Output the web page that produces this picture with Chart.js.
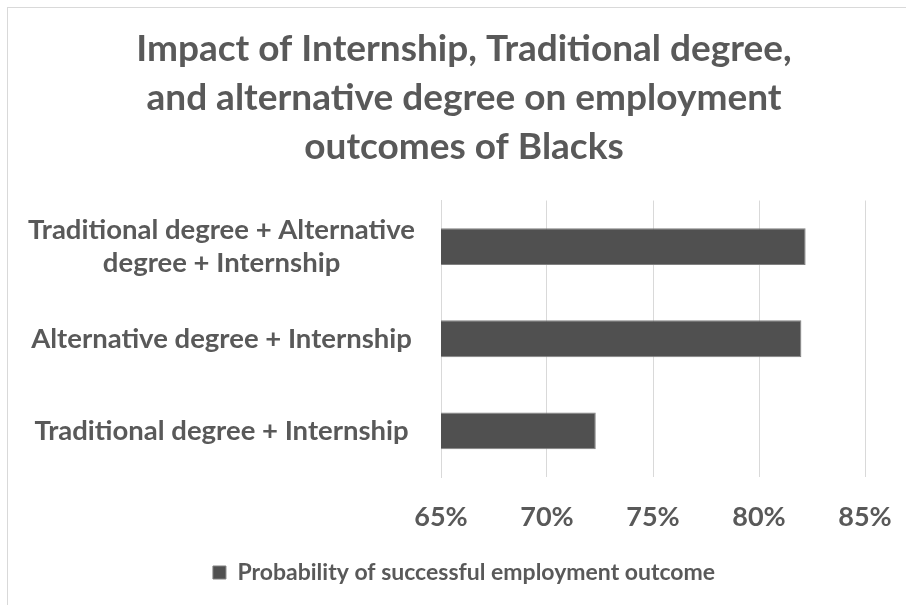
<!DOCTYPE html>
<html>
<head>
<meta charset="utf-8">
<script src="https://cdn.jsdelivr.net/npm/chart.js@4/dist/chart.umd.min.js"></script>
<style>
  html, body { margin: 0; padding: 0; background: #ffffff; }
  #wrap { position: relative; width: 906px; height: 605px; overflow: hidden; }
  #frame { position: absolute; left: 7px; top: 7px; width: 920px; height: 620px; border: 1px solid #d9d9d9; box-sizing: border-box; }
  #c { position: absolute; left: 0; top: 0; }
</style>
</head>
<body>
<div id="wrap">
  <div id="frame"></div>
  <canvas id="c" width="930" height="605"></canvas>
</div>
<script>
// Chart data
const categories = [
  ["Traditional degree + Alternative", "degree + Internship"],
  "Alternative degree + Internship",
  "Traditional degree + Internship"
];
const seriesName = "Probability of successful employment outcome";
const probability = [0.822, 0.820, 0.723];
const tickValues = [0.65, 0.70, 0.75, 0.80, 0.85];

const TEXT = '#595959';
const FONT = 'Lato, "Open Sans", sans-serif';

new Chart(document.getElementById('c'), {
  type: 'bar',
  data: {
    labels: categories,
    datasets: [{
      label: seriesName,
      data: probability,
      backgroundColor: '#505050',
      borderColor: '#808080',
      borderWidth: 1,
      barPercentage: 0.4,
      categoryPercentage: 1.0,
      yAxisID: 'y'
    }]
  },
  options: {
    indexAxis: 'y',
    responsive: false,
    animation: false,
    layout: { padding: { top: 15, right: 12, bottom: 11, left: 10 } },
    plugins: {
      title: {
        display: true,
        text: [
          "Impact of Internship, Traditional degree,",
          "and alternative degree on employment",
          "outcomes of Blacks"
        ],
        color: TEXT,
        font: { family: FONT, size: 37, weight: 'bold', lineHeight: 1.32 },
        padding: { top: 10, bottom: 29 }
      },
      legend: {
        display: true,
        position: 'bottom',
        labels: {
          color: TEXT,
          font: { family: FONT, size: 23, weight: 'bold' },
          boxWidth: 13,
          boxHeight: 13,
          padding: 10
        }
      },
      tooltip: { enabled: false }
    },
    scales: {
      x: {
        min: 0.65,
        max: 0.85,
        afterBuildTicks: (scale) => { scale.ticks = tickValues.map(v => ({ value: v })); },
        ticks: {
          color: TEXT,
          font: { family: FONT, size: 27, weight: 'bold' },
          padding: 24,
          callback: (v) => Math.round(v * 100) + '%'
        },
        grid: { color: '#d9d9d9', lineWidth: 1, drawTicks: false },
        border: { display: false },
        afterFit: (scale) => { scale.height = 74; }
      },
      y: {
        ticks: {
          color: TEXT,
          font: { family: FONT, size: 27.5, weight: 'bold', lineHeight: 1.2 },
          padding: 26,
          crossAlign: 'center'
        },
        grid: { display: false, drawTicks: false },
        border: { display: true, color: '#d9d9d9' },
        afterFit: (scale) => { scale.width = 431; }
      },
      // empty right-hand margin axis: keeps the plot narrower than the title/legend band
      yMargin: {
        type: 'category',
        position: 'right',
        labels: categories,
        ticks: { display: false },
        grid: { display: false, drawTicks: false },
        border: { display: false },
        afterFit: (scale) => { scale.width = 53; }
      }
    }
  }
});
</script>
</body>
</html>
